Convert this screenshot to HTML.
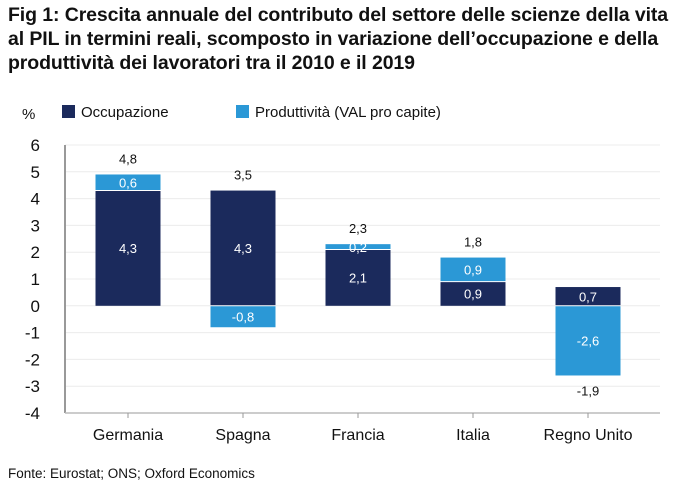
<!DOCTYPE html>
<html><head><meta charset="utf-8"><style>
body{margin:0;background:#fff;font-family:"Liberation Sans",sans-serif;}
#wrap{position:relative;width:687px;height:493px;overflow:hidden;}
.title{position:absolute;left:8px;top:3px;font-size:19.5px;font-weight:bold;line-height:24px;color:#111;letter-spacing:-0.1px;white-space:nowrap;}
.src{position:absolute;left:8px;top:466px;font-size:13.5px;color:#111;}
</style></head><body>
<div id="wrap">
<div class="title">Fig 1: Crescita annuale del contributo del settore delle scienze della vita<br>al PIL in termini reali, scomposto in variazione dell’occupazione e della<br>produttività dei lavoratori tra il 2010 e il 2019</div>
<svg id="c" width="687" height="493" style="position:absolute;left:0;top:0"></svg>
<div class="src">Fonte: Eurostat; ONS; Oxford Economics</div>
</div>
<script>
const categories=["Germania","Spagna","Francia","Italia","Regno Unito"];
const occupazione=[4.3,4.3,2.1,0.9,0.7];
const produttivita=[0.6,-0.8,0.2,0.9,-2.6];
const totals=["4,8","3,5","2,3","1,8","-1,9"];
const yTicks=[6,5,4,3,2,1,0,-1,-2,-3,-4];
const NS="http://www.w3.org/2000/svg";
const svg=document.getElementById('c');
const x0=65,x1=660,y0=145,yB=413;
const y=v=>y0+(6-v)*(yB-y0)/10;
const band=(x1-x0-20)/5;
const cx=i=>x0+63+i*band;
const bw=65;
function el(t,a,txt){const e=document.createElementNS(NS,t);for(const k in a)e.setAttribute(k,a[k]);if(txt!==undefined)e.textContent=txt;svg.appendChild(e);return e;}
const fmt=v=>String(v).replace('.',',');
yTicks.forEach(t=>{
 const g=el('line',{x1:x0,x2:x1,y1:y(t),y2:y(t),stroke:'#ececec','stroke-width':1});
 
 
 const l=el('text',{x:40,y:y(t)+6,'text-anchor':'end','font-size':17,fill:'#111'},String(t));
 
 
});
const yl=el('text',{x:22,y:119,'font-size':15,fill:'#111'},'%');


const ax=el('line',{x1:x0,x2:x0,y1:y0,y2:yB,stroke:'#999','stroke-width':2});


const bx=el('line',{x1:x0,x2:x1,y1:yB,y2:yB,stroke:'#bbb','stroke-width':1.5});


[[ '#1b2a5c','Occupazione',62],['#2b98d6','Produttività (VAL pro capite)',236]].forEach(([c,t,x])=>{
 const r=el('rect',{x:x,y:105,width:13,height:13,fill:c});
 
 
 const tx=el('text',{x:x+19,y:117,'font-size':15,fill:'#111'},t);
 
 
});
categories.forEach((c,i)=>{
 const xc=cx(i),xl=xc-bw/2;
 const o=occupazione[i],p=produttivita[i];
 const dTop=Math.max(o,0),dBot=Math.min(o,0);
 const d=el('rect',{x:xl,y:y(dTop),width:bw,height:y(dBot)-y(dTop),fill:'#1b2a5c'});
 
 
 let pb,pt;
 if(p>=0){pb=o>0?o:0;pt=pb+p;}else{pt=o<0?o:0;pb=pt+p;}
 const lb=el('rect',{x:xl,y:y(pt),width:bw,height:y(pb)-y(pt),fill:'#2b98d6'});
 
 
 const sep=el('line',{x1:xl,x2:xl+bw,y1:y(p>=0?pb:pt),y2:y(p>=0?pb:pt),stroke:'#fff','stroke-width':1});
 
 
 const dl=el('text',{x:xc,y:(y(dTop)+y(dBot))/2+5,'text-anchor':'middle','font-size':13,fill:'#fff'},fmt(o));
 
 
 const pl=el('text',{x:xc,y:(y(pt)+y(pb))/2+5,'text-anchor':'middle','font-size':13,fill:'#fff'},fmt(p));
 
 
 const top=Math.max(dTop,pt),bot=Math.min(dBot,pb);
 const ty=p<0&&o>0&&Math.abs(p)>o?y(bot)+20:y(top)-11;
 const tl=el('text',{x:xc,y:ty,'text-anchor':'middle','font-size':13,fill:'#111'},totals[i]);
 
 
 const tk=el('line',{x1:xc,x2:xc,y1:yB,y2:yB+5,stroke:'#999'});
 
 
 const cl=el('text',{x:xc,y:yB+27,'text-anchor':'middle','font-size':16,fill:'#111'},c);
 
 
});
</script>
</body></html>
